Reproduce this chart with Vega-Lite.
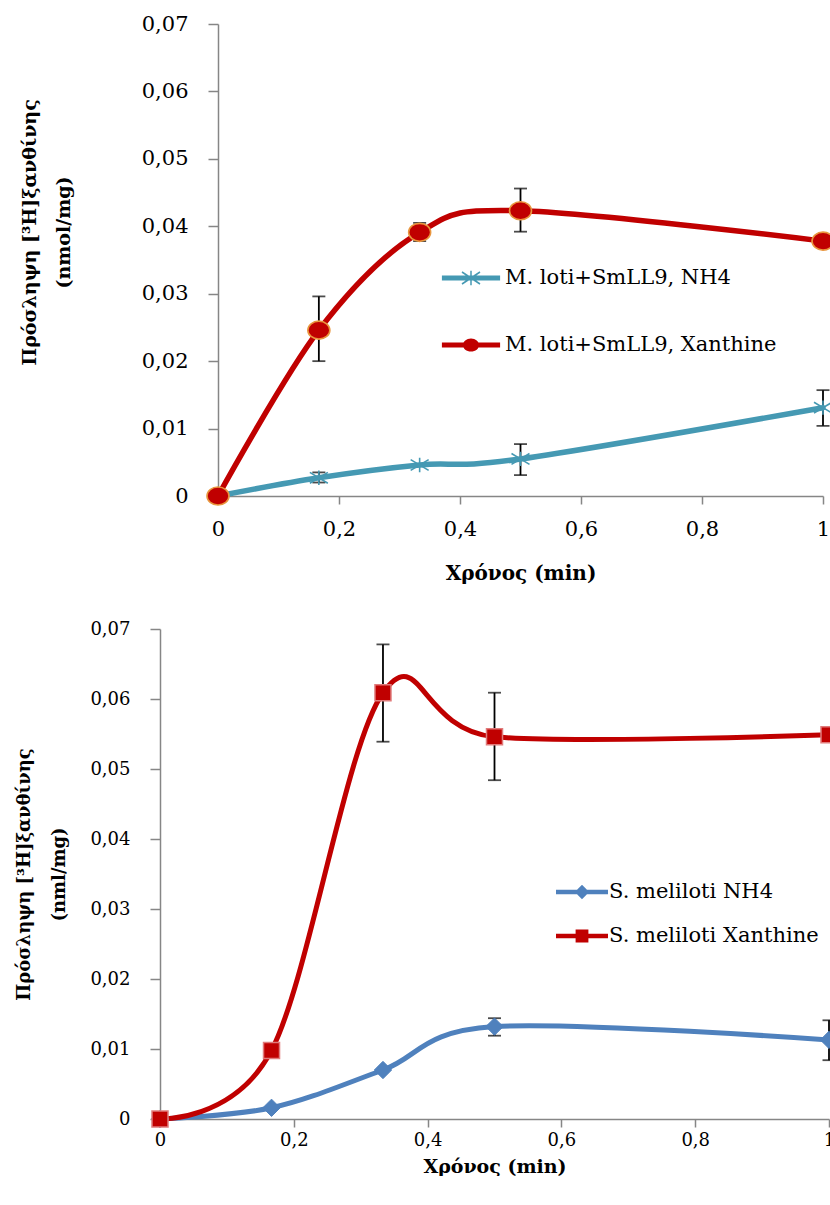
{
  "$schema": "https://vega.github.io/schema/vega-lite/v6.json",
  "background": "white",
  "padding": {"left": 15, "top": 13, "right": 0, "bottom": 0},
  "columns": 1,
  "spacing": 37,
  "resolve": {"scale": {"color": "independent", "x": "independent", "y": "independent"}, "legend": {"color": "independent"}, "axis": {"x": "independent", "y": "independent"}},
  "config": {
    "view": {"stroke": null},
    "font": "DejaVu Serif",
    "axis": {"grid": false, "domainColor": "#868686", "domainWidth": 1.5, "tickColor": "#868686", "tickWidth": 1.5, "labelColor": "black", "titleColor": "black", "labelFont": "DejaVu Serif", "titleFont": "DejaVu Serif", "titleFontWeight": "bold"}
  },
  "concat": [
    {
      "width": 663,
      "height": 472,
      "data": {"values": [
        {"s": "M. loti+SmLL9, NH4", "t": 0, "v": 0, "lo": null, "hi": null},
        {"s": "M. loti+SmLL9, NH4", "t": 0.1667, "v": 0.0027, "lo": 0.0020, "hi": 0.0035},
        {"s": "M. loti+SmLL9, NH4", "t": 0.3333, "v": 0.0046, "lo": null, "hi": null},
        {"s": "M. loti+SmLL9, NH4", "t": 0.5, "v": 0.0055, "lo": 0.0031, "hi": 0.0077},
        {"s": "M. loti+SmLL9, NH4", "t": 1, "v": 0.0131, "lo": 0.0104, "hi": 0.0157},
        {"s": "M. loti+SmLL9, Xanthine", "t": 0, "v": 0, "lo": null, "hi": null},
        {"s": "M. loti+SmLL9, Xanthine", "t": 0.1667, "v": 0.0246, "lo": 0.0200, "hi": 0.0296},
        {"s": "M. loti+SmLL9, Xanthine", "t": 0.3333, "v": 0.0391, "lo": 0.0378, "hi": 0.0405},
        {"s": "M. loti+SmLL9, Xanthine", "t": 0.5, "v": 0.0423, "lo": 0.0392, "hi": 0.0456},
        {"s": "M. loti+SmLL9, Xanthine", "t": 1, "v": 0.0378, "lo": null, "hi": null}
      ]},
      "encoding": {
        "x": {"field": "t", "type": "quantitative", "scale": {"domain": [0, 1], "nice": false, "range": [58, 663]},
          "axis": {"title": "Χρόνος (min)", "values": [0, 0.2, 0.4, 0.6, 0.8, 1], "labelExpr": "replace(format(datum.value, '~g'), '.', ',')", "labelFontSize": 21, "tickSize": 8, "labelPadding": 14, "titleFontSize": 20, "titlePadding": 24, "labelFlush": false}},
        "y": {"field": "v", "type": "quantitative", "scale": {"domain": [0, 0.07], "nice": false},
          "axis": {"offset": -58, "title": ["Πρόσληψη [³Η]ξανθίνης", "(nmol/mg)"], "titleY": 208, "values": [0, 0.01, 0.02, 0.03, 0.04, 0.05, 0.06, 0.07], "labelExpr": "replace(format(datum.value, '~g'), '.', ',')", "labelFontSize": 21, "tickSize": 10, "labelPadding": 20, "titleFontSize": 19, "titleLineHeight": 34, "titlePadding": 68}}
      },
      "layer": [
        {
          "transform": [{"filter": "datum.lo != null"}],
          "mark": {"type": "errorbar", "ticks": {"size": 13}, "color": "black", "thickness": 1.8},
          "encoding": {"y": {"field": "lo", "type": "quantitative", "scale": {"domain": [0, 0.07], "nice": false},
            "axis": {"offset": -58, "title": ["Πρόσληψη [³Η]ξανθίνης", "(nmol/mg)"], "titleY": 208, "values": [0, 0.01, 0.02, 0.03, 0.04, 0.05, 0.06, 0.07], "labelExpr": "replace(format(datum.value, '~g'), '.', ',')", "labelFontSize": 21, "tickSize": 10, "labelPadding": 20, "titleFontSize": 19, "titleLineHeight": 34, "titlePadding": 68}}, "y2": {"field": "hi"}}
        },
        {
          "mark": {"type": "line", "interpolate": "cardinal", "strokeWidth": 5.5, "strokeCap": "round"},
          "encoding": {
            "color": {"field": "s", "type": "nominal", "scale": {"domain": ["M. loti+SmLL9, NH4", "M. loti+SmLL9, Xanthine"], "range": ["#4599B3", "#C00000"]},
              "legend": {"orient": "none", "legendX": 281, "legendY": 224, "title": null, "padding": 0, "symbolSize": 3600, "symbolStrokeWidth": 0, "labelFont": "DejaVu Serif", "labelFontSize": 21, "labelColor": "black", "labelOffset": 4, "rowPadding": 27, "labelLimit": 500,
                "encode": {"symbols": {"update": {
                  "shape": {"signal": "datum.value == 'M. loti+SmLL9, NH4' ? 'M-0.97,-0.085H0.97V0.085H-0.97Z M-0.025,-0.24H0.025V0.24H-0.025Z M-0.286,-0.221L0.314,0.179L0.286,0.221L-0.314,-0.179Z M-0.314,0.179L0.286,-0.221L0.314,-0.179L-0.286,0.221Z' : 'M-0.97,-0.085H0.97V0.085H-0.97Z M-0.27,0A0.27,0.22 0 1 1 0.27,0A0.27,0.22 0 1 1 -0.27,0Z'"},
                  "fill": {"signal": "datum.value == 'M. loti+SmLL9, NH4' ? '#4599B3' : '#C00000'"},
                  "stroke": {"value": "transparent"},
                  "strokeWidth": {"value": 0},
                  "opacity": {"value": 1}
                }}}
              }}
          }
        },
        {
          "transform": [{"filter": "datum.s == 'M. loti+SmLL9, NH4'"}],
          "mark": {"type": "point", "shape": "M0,-0.8V0.8M-1,-0.6L1,0.6M-1,0.6L1,-0.6", "size": 324, "filled": false, "stroke": "#4599B3", "strokeWidth": 1.6, "opacity": 1}
        },
        {
          "transform": [{"filter": "datum.s == 'M. loti+SmLL9, Xanthine'"}],
          "mark": {"type": "point", "shape": "M-1.1,0A1.1,0.9 0 1 1 1.1,0A1.1,0.9 0 1 1 -1.1,0Z", "size": 400, "filled": true, "fill": "#C00000", "stroke": "#E9963E", "strokeWidth": 1.6, "opacity": 1}
        }
      ]
    },
    {
      "width": 669,
      "height": 490,
      "data": {"values": [
        {"s": "S. meliloti NH4", "t": 0, "v": 0, "lo": null, "hi": null},
        {"s": "S. meliloti NH4", "t": 0.1667, "v": 0.0016, "lo": null, "hi": null},
        {"s": "S. meliloti NH4", "t": 0.3333, "v": 0.0070, "lo": null, "hi": null},
        {"s": "S. meliloti NH4", "t": 0.5, "v": 0.0132, "lo": 0.0119, "hi": 0.0144},
        {"s": "S. meliloti NH4", "t": 1, "v": 0.0113, "lo": 0.0084, "hi": 0.0141},
        {"s": "S. meliloti Xanthine", "t": 0, "v": 0, "lo": null, "hi": null},
        {"s": "S. meliloti Xanthine", "t": 0.1667, "v": 0.0098, "lo": null, "hi": null},
        {"s": "S. meliloti Xanthine", "t": 0.3333, "v": 0.0609, "lo": 0.0539, "hi": 0.0678},
        {"s": "S. meliloti Xanthine", "t": 0.5, "v": 0.0546, "lo": 0.0484, "hi": 0.0609},
        {"s": "S. meliloti Xanthine", "t": 1, "v": 0.0549, "lo": null, "hi": null}
      ]},
      "encoding": {
        "x": {"field": "t", "type": "quantitative", "scale": {"domain": [0, 1], "nice": false},
          "axis": {"title": "Χρόνος (min)", "values": [0, 0.2, 0.4, 0.6, 0.8, 1], "labelExpr": "replace(format(datum.value, '~g'), '.', ',')", "labelFontSize": 18, "tickSize": 8, "labelPadding": 4, "titleFontSize": 19, "titlePadding": 8, "labelFlush": false}},
        "y": {"field": "v", "type": "quantitative", "scale": {"domain": [0, 0.07], "nice": false},
          "axis": {"title": ["Πρόσληψη [³Η]ξανθίνης", "(nml/mg)"], "values": [0, 0.01, 0.02, 0.03, 0.04, 0.05, 0.06, 0.07], "labelExpr": "replace(format(datum.value, '~g'), '.', ',')", "labelFontSize": 18, "tickSize": 10, "labelPadding": 20, "titleFontSize": 18, "titleLineHeight": 35, "titlePadding": 21}}
      },
      "layer": [
        {
          "transform": [{"filter": "datum.lo != null"}],
          "mark": {"type": "errorbar", "ticks": {"size": 13}, "color": "black", "thickness": 1.8},
          "encoding": {"y": {"field": "lo", "type": "quantitative", "scale": {"domain": [0, 0.07], "nice": false},
            "axis": {"title": ["Πρόσληψη [³Η]ξανθίνης", "(nml/mg)"], "values": [0, 0.01, 0.02, 0.03, 0.04, 0.05, 0.06, 0.07], "labelExpr": "replace(format(datum.value, '~g'), '.', ',')", "labelFontSize": 18, "tickSize": 10, "labelPadding": 20, "titleFontSize": 18, "titleLineHeight": 35, "titlePadding": 21}}, "y2": {"field": "hi"}}
        },
        {
          "mark": {"type": "line", "interpolate": "cardinal", "strokeWidth": 5, "strokeCap": "round"},
          "encoding": {
            "color": {"field": "s", "type": "nominal", "scale": {"domain": ["S. meliloti NH4", "S. meliloti Xanthine"], "range": ["#4F81BD", "#C00000"]},
              "legend": {"orient": "none", "legendX": 402, "legendY": 243, "title": null, "padding": 0, "symbolSize": 1600, "symbolStrokeWidth": 0, "labelFont": "DejaVu Serif", "labelFontSize": 21, "labelColor": "black", "labelOffset": 7, "rowPadding": 14, "labelLimit": 500,
                "encode": {"symbols": {"update": {
                  "shape": {"signal": "datum.value == 'S. meliloti NH4' ? 'M-1.3,-0.11H1.3V0.11H-1.3Z M-0.36,0L0,-0.36L0.36,0L0,0.36Z' : 'M-1.3,-0.11H1.3V0.11H-1.3Z M-0.32,-0.32H0.32V0.32H-0.32Z'"},
                  "fill": {"signal": "datum.value == 'S. meliloti NH4' ? '#4F81BD' : '#C00000'"},
                  "stroke": {"value": "transparent"},
                  "strokeWidth": {"value": 0},
                  "opacity": {"value": 1}
                }}}
              }}
          }
        },
        {
          "transform": [{"filter": "datum.s == 'S. meliloti NH4'"}],
          "mark": {"type": "point", "shape": "diamond", "size": 300, "filled": true, "fill": "#4F81BD", "stroke": "#4F81BD", "strokeWidth": 1, "opacity": 1}
        },
        {
          "transform": [{"filter": "datum.s == 'S. meliloti Xanthine'"}],
          "mark": {"type": "point", "shape": "square", "size": 256, "filled": true, "fill": "#C00000", "stroke": "#E07B7B", "strokeWidth": 1.5, "opacity": 1}
        }
      ]
    }
  ]
}
